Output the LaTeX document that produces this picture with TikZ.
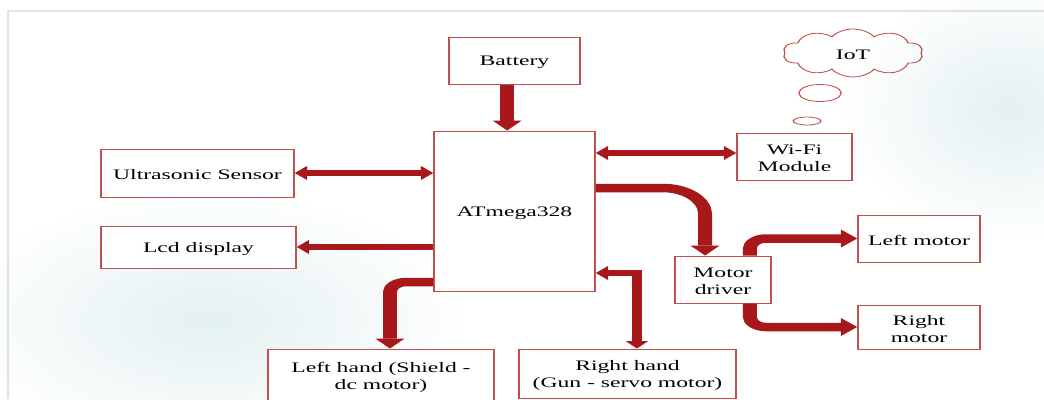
\documentclass[tikz,border=0pt]{standalone}
\usepackage{fontspec}
\setmainfont{Liberation Serif}
\usetikzlibrary{arrows.meta,fit,shapes.geometric,shapes.symbols}
\definecolor{boxRed}{HTML}{C0504D}
\definecolor{arrowRed}{HTML}{A8181B}
\definecolor{frameGray}{HTML}{E2E2E2}
\definecolor{bgTeal}{HTML}{E3F0F1}

\begin{document}
\begin{tikzpicture}[x=1pt, y=-1pt,
        box/.style={draw=boxRed, line width=1pt, fill=white, inner sep=0pt},
        every label/.style={align=center, yshift=-2pt, font=\fontsize{14.5}{16.5}\selectfont},
        bigarr/.style={draw=arrowRed, line width=8.5pt,
                       -{Triangle[width=18pt,length=10pt,line width=0pt]}},
        arr/.style={draw=arrowRed, line width=6.5pt,
                    -{Triangle[width=14pt,length=7.5pt,line width=0pt]}},
        darr/.style={arr, {Triangle[width=14pt,length=7.5pt,line width=0pt]}-{Triangle[width=14pt,length=7.5pt,line width=0pt]}},
        bubble/.style={ellipse, draw=boxRed, line width=0.8pt, inner sep=0pt}
    ]
    \useasboundingbox (0,0) rectangle (1044,399);
    \clip (0,0) rectangle (1044,399);

    % page background
    \shade[inner color=bgTeal, outer color=white] (210,320) ellipse (260 and 130);
    \shade[inner color=bgTeal, outer color=white] (1010,110) ellipse (170 and 130);
    \draw[frameGray, line width=1.5pt] (1044,11) -- (8,11) -- (8,399);

    % the drawing is stretched sideways, like the original slide
    \begin{scope}[transform canvas={xscale=1.63}, x=0.6135pt]
        \node[box, fit={(449,37) (580,84)}, label={center:Battery}] (bat) {};
        \node[box, fit={(434,131) (595,291)}, label={center:ATmega328}] (mcu) {};
        \node[box, fit={(101,149) (294,197)}, label={center:Ultrasonic Sensor}] (us) {};
        \node[box, fit={(101,226) (296,268)}, label={center:Lcd display}] (lcd) {};
        \node[box, fit={(737,133) (852,180)}, label={center:Wi-Fi\\Module}] (wifi) {};
        \node[box, fit={(675,256) (771,303)}, label={center:Motor\\driver}] (drv) {};
        \node[box, fit={(858,215) (980,262)}, label={center:Left motor}] (lm) {};
        \node[box, fit={(858,305) (980,349)}, label={center:Right\\motor}] (rm) {};
        \node[box, fit={(268,349) (494,402)}, label={center:Left hand (Shield -\\dc motor)}] (lh) {};
        \node[box, fit={(519,349) (736,398)}, label={center:Right hand\\(Gun - servo motor)}] (rh) {};

        \node[cloud, draw=boxRed, line width=0.8pt, cloud puffs=10, cloud puff arc=125,
              minimum width=86pt, minimum height=48pt, inner sep=0pt,
              label={center:IoT}] (iot) at (853,53) {};
        \node[bubble, minimum width=26pt, minimum height=17pt] (bub1) at (820,93) {};
        \node[bubble, minimum width=17pt, minimum height=8pt] (bub2) at (807,121) {};

        \coordinate (wf) at ([yshift=3.5pt]wifi.west);

        \draw[bigarr] ([xshift=-4.5pt]bat.south) -- ([xshift=-4.5pt]mcu.north);
        \draw[darr] (us.east) -- (us.east -| mcu.west);
        \draw[arr] (lcd.east -| mcu.west) -- (lcd.east);
        \draw[darr] (wf -| mcu.east) -- (wf);
        \draw[bigarr, rounded corners=26pt] ([yshift=23pt]mcu.east) -| ([xshift=-11pt]drv.north);
        \draw[bigarr, rounded corners=10pt] ([xshift=16.5pt]drv.north) |- (lm.west);
        \draw[bigarr, rounded corners=10pt] ([xshift=16.5pt]drv.south) |- (rm.west);
        \draw[bigarr, rounded corners=10pt] ([yshift=-71pt]mcu.west) -| ([xshift=5.5pt]lh.north);
        \draw[darr] ([yshift=-62pt]mcu.east) -| ([xshift=5.8pt]rh.north);
    \end{scope}
\end{tikzpicture}
\end{document}
